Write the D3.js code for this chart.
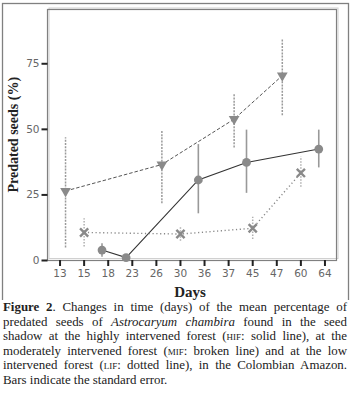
<!DOCTYPE html>
<html><head><meta charset="utf-8">
<script src="https://cdn.jsdelivr.net/npm/d3@7"></script>
<style>
body{margin:0;background:#fff;width:350px;height:413px;overflow:hidden;position:relative}
#cap{position:absolute;left:3px;top:300px;width:344px;font-family:"Liberation Serif","Times New Roman",serif;font-size:12.9px;line-height:14.5px;color:#222}
#cap div{text-align:justify;text-align-last:justify;white-space:nowrap}
#cap div.last{text-align-last:left}
.sc{font-variant:small-caps;text-transform:lowercase}
</style></head><body>
<svg id="chart" width="350" height="300"></svg>
<div id="cap"></div>
<script>
const days = ["13","15","18","23","26","30","36","37","45","47","60","64"];
const yTicks = [0,25,50,75];
// HIF: solid line, circles
const hifDays = ["18","23","36","45","64"];
const hifMean = [3.8,0.9,30.5,37.2,42.3];
const hifLow  = [1.2,0.0,17.8,25.6,35.3];
const hifHigh = [6.4,1.8,44.2,49.7,49.7];
// MIF: broken line, triangles
const mifDays = ["13","26","37","47"];
const mifMean = [26.3,36.4,53.7,70.3];
const mifLow  = [4.8,21.6,42.9,55.2];
const mifHigh = [46.8,49.7,63.4,84.1];
// LIF: dotted line, crosses
const lifDays = ["15","30","45","60"];
const lifMean = [10.5,9.9,12.1,33.2];
const lifLow  = [5.1,7.3,8.0,27.9];
const lifHigh = [15.9,12.7,16.5,39.5];

const captionLines = [
  '<b>Figure 2</b>. Changes in time (days) of the mean percentage of',
  'predated seeds of <i>Astrocaryum chambira</i> found in the seed',
  'shadow at the highly intervened forest (<span class="sc">HIF</span>: solid line), at the',
  'moderately intervened forest (<span class="sc">MIF</span>: broken line) and at the low',
  'intervened forest (<span class="sc">LIF</span>: dotted line), in the Colombian Amazon.',
  'Bars indicate the standard error.'
];

const svg = d3.select("#chart");
const L=47.5, R=336.5, T=9.5, B=260;
const x = d3.scalePoint().domain(days).range([L, R]).padding(0.5);
const y = d3.scaleLinear().domain([0,95.5]).range([B, T]);

// outer frame
svg.append("rect").attr("x",2.5).attr("y",3.5).attr("width",346).attr("height",304.5)
  .attr("fill","none").attr("stroke","#808080").attr("stroke-width",1.3);
// inner box with light shadow
svg.append("rect").attr("x",L+1.5).attr("y",T-1.5).attr("width",R-L).attr("height",B-T)
  .attr("fill","none").attr("stroke","#d0d0d0").attr("stroke-width",1);
svg.append("rect").attr("x",L).attr("y",T).attr("width",R-L).attr("height",B-T+0.5)
  .attr("fill","none").attr("stroke","#808080").attr("stroke-width",1.2);

// axes
const yAxis = d3.axisLeft(y).tickValues(yTicks).tickSize(6).tickPadding(2);
const gy = svg.append("g").attr("transform",`translate(${L},0)`).call(yAxis);
const xAxis = d3.axisBottom(x).tickSize(6).tickPadding(4);
const gx = svg.append("g").attr("transform",`translate(0,${B})`).call(xAxis);
[gx,gy].forEach(g=>{
  g.select(".domain").remove();
  g.selectAll(".tick line").attr("stroke","#222").attr("stroke-width",2);
  g.selectAll(".tick text").attr("fill","#666").attr("font-family","'DejaVu Sans',sans-serif").attr("font-size","10.5px");
});

// axis titles
svg.append("text").attr("x",190).attr("y",297).attr("text-anchor","middle")
  .attr("font-family","'Liberation Serif',serif").attr("font-weight","bold").attr("font-size","15px").attr("fill","#222").text("Days");
svg.append("text").attr("transform",`translate(18,${(T+B)/2}) rotate(-90)`).attr("text-anchor","middle")
  .attr("font-family","'Liberation Serif',serif").attr("font-weight","bold").attr("font-size","14px").attr("fill","#222").text("Predated seeds (%)");

function series(dd, mean, low, high, off){
  return dd.map((d,i)=>({x:x(d)+off, m:mean[i], lo:low[i], hi:high[i]}));
}
const hif = series(hifDays,hifMean,hifLow,hifHigh,-5.7);
const mif = series(mifDays,mifMean,mifLow,mifHigh,6);
const lif = series(lifDays,lifMean,lifLow,lifHigh,0.5);
const line = d3.line().x(d=>d.x).y(d=>y(d.m));

// error bars
function bars(data, style){
  svg.append("g").selectAll("line").data(data).join("line")
    .attr("x1",d=>d.x).attr("x2",d=>d.x).attr("y1",d=>y(d.lo)).attr("y2",d=>y(d.hi))
    .attr("stroke",style.c).attr("stroke-width",style.w).attr("stroke-dasharray",style.dash||null);
}
bars(mif,{c:"#9a9a9a",w:1.5,dash:"2,1.2"});
bars(hif,{c:"#999",w:1.6});
bars(lif,{c:"#b0b0b0",w:1.5,dash:"1.5,1.5"});

// lines
svg.append("path").datum(mif).attr("d",line).attr("fill","none").attr("stroke","#555").attr("stroke-width",1).attr("stroke-dasharray","3.5,2");
svg.append("path").datum(hif).attr("d",line).attr("fill","none").attr("stroke","#333").attr("stroke-width",1.1);
svg.append("path").datum(lif).attr("d",line).attr("fill","none").attr("stroke","#888").attr("stroke-width",1.4).attr("stroke-dasharray","1.2,2.6");

// markers
svg.append("g").selectAll("path").data(mif).join("path")
  .attr("transform",d=>`translate(${d.x},${y(d.m)}) rotate(180)`)
  .attr("d",d3.symbol(d3.symbolTriangle,50)).attr("fill","#8a8a8a");
svg.append("g").selectAll("circle").data(hif).join("circle")
  .attr("cx",d=>d.x).attr("cy",d=>y(d.m)).attr("r",4.4).attr("fill","#8a8a8a");
svg.append("g").selectAll("path").data(lif).join("path")
  .attr("transform",d=>`translate(${d.x},${y(d.m)})`)
  .attr("d",d3.symbol(d3.symbolX,45)).attr("fill","none").attr("stroke","#8a8a8a").attr("stroke-width",2.4);

d3.select("#cap").selectAll("div").data(captionLines).join("div")
  .attr("class",(d,i)=>i===captionLines.length-1?"last":null).html(d=>d);
</script>
</body></html>
